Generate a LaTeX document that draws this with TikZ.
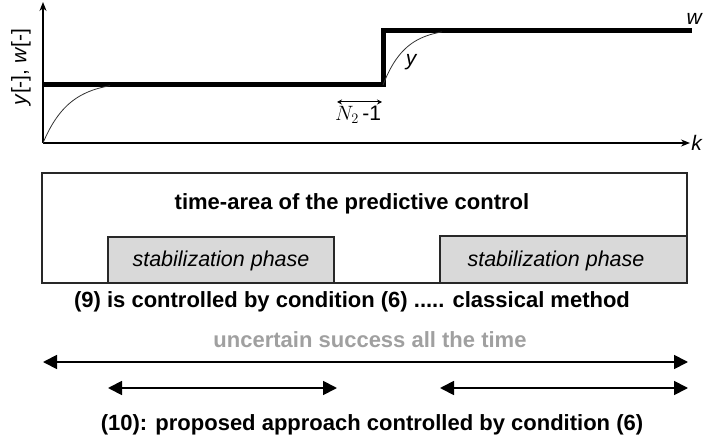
\documentclass[tikz,border=0pt]{standalone}
\usepackage{fontspec}
\setmainfont{Liberation Sans}
\usetikzlibrary{arrows.meta}
\definecolor{stabgray}{RGB}{217,217,217}
\definecolor{boxline}{RGB}{40,40,40}
\definecolor{softgray}{RGB}{160,160,160}
\tikzset{
  axisline/.style={line width=1.4pt, -{Stealth[length=9pt,width=7pt]}},
  refline/.style={line width=5pt},
  respline/.style={line width=0.8pt, black!80},
  framebox/.style={draw=boxline, line width=1.5pt},
  stabbox/.style={draw=boxline, line width=1.5pt, fill=stabgray},
  spanarrow/.style={line width=1.8pt, {Triangle[length=14pt,width=14pt]}-{Triangle[length=14pt,width=14pt]}},
  boldtxt/.style={font=\fontsize{22}{26}\selectfont\bfseries, inner sep=0pt},
  italtxt/.style={font=\fontsize{21.5}{26}\selectfont\itshape, inner sep=0pt},
  plaintxt/.style={font=\fontsize{21}{25}\selectfont, inner sep=0pt}
}
\begin{document}
\begin{tikzpicture}[x=1pt,y=-1pt]
\useasboundingbox (0,0) rectangle (703,446);
% axes
\coordinate (O) at (43,143);
\coordinate (Ytop) at (43,2);
\coordinate (Xend) at (690,143);
\draw[axisline] (O) -- (Ytop);
\draw[axisline] (O) -- (Xend);
\node[plaintxt, rotate=90] (ylab) at (21,67) {\textit{y}[-], \textit{w}[-]};
\node[plaintxt, anchor=east] (klab) at (703,143) {\textit{k}};
% reference signal w
\coordinate (w0) at (43,85);
\coordinate (w1) at (383,85);
\coordinate (w2) at (383,31);
\coordinate (w3) at (692,31);
\draw[refline] (w0) -- (w1) -- (w2) -- (w3);
\node[plaintxt, anchor=east] (wlab) at (703,19) {\textit{w}};
% output y
\draw[respline] plot[domain=43:110, samples=50, smooth] (\x, {143-62*(1-exp(-(\x-43)/26))});
\draw[respline] plot[domain=383:442, samples=50, smooth] (\x, {85-57*(1-exp(-(\x-383)/22))});
\node[plaintxt, font=\fontsize{21}{25}\selectfont\itshape] (ylbl) at (411,62) {y};
% N2 - 1
\coordinate (n0) at (337,102);
\coordinate (n1) at (382,102);
\draw[line width=1pt, {Stealth[length=5pt,width=5pt]}-{Stealth[length=5pt,width=5pt]}] (n0) -- (n1);
\node[plaintxt, anchor=north] (nlab) at (358,106) {$N_2$\,-1};
% boxes
\draw[framebox] (42,173) rectangle (687,283);
\node[boldtxt, anchor=base] (title) at (352,210) {time-area of the predictive control};
\draw[stabbox] (108,237) rectangle (334,283);
\draw[stabbox] (440,236) rectangle (687,283);
\node[italtxt] (stab1) at (221,261) {stabilization phase};
\node[italtxt] (stab2) at (556,261) {stabilization phase};
% texts and arrows
\node[boldtxt] (classic) at (352,302) {(9) is controlled by condition (6) ..... classical method};
\node[boldtxt, text=softgray] (uncert) at (370,340) {uncertain success all the time};
\coordinate (a0) at (43,362);
\coordinate (a1) at (688,362);
\draw[spanarrow] (a0) -- (a1);
\coordinate (b0) at (108,388);
\coordinate (b1) at (337,388);
\draw[spanarrow] (b0) -- (b1);
\coordinate (c0) at (440,388);
\coordinate (c1) at (688,388);
\draw[spanarrow] (c0) -- (c1);
\node[boldtxt] (proposed) at (372,425) {(10): proposed approach controlled by condition (6)};
\end{tikzpicture}
\end{document}
